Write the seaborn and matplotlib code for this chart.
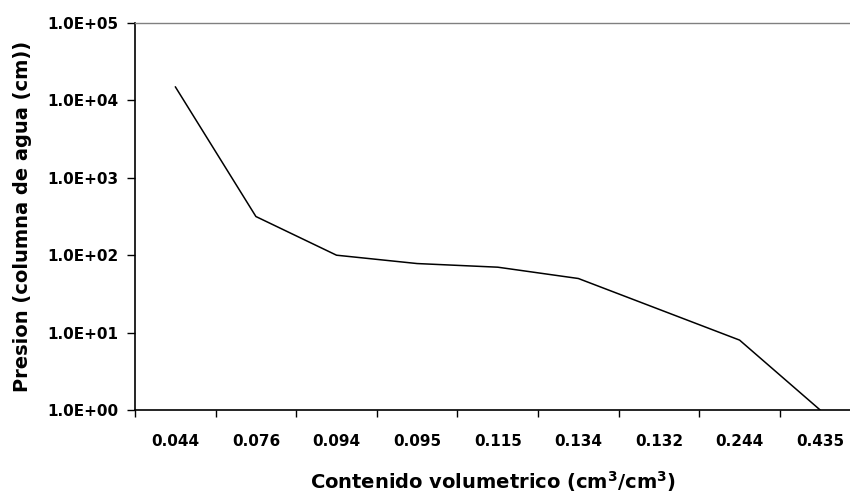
import numpy as np
import pandas as pd
import matplotlib
matplotlib.use("Agg")
import matplotlib.pyplot as plt
from matplotlib.ticker import FixedLocator, FuncFormatter, NullLocator
import seaborn as sns

# Retention curve: volumetric water content vs. suction head
contenido = ["0.044", "0.076", "0.094", "0.095", "0.115", "0.134", "0.132", "0.244", "0.435"]
presion = [15000, 316, 100, 78, 70, 50, 20, 8, 1]
y_ticks = [1e0, 1e1, 1e2, 1e3, 1e4, 1e5]

sns.set_theme(style="white")
plt.rcParams["font.family"] = ["DejaVu Sans"]
plt.rcParams["mathtext.fontset"] = "dejavusans"
plt.rcParams["mathtext.default"] = "bf"
plt.rcParams["text.color"] = "black"
plt.rcParams["axes.labelcolor"] = "black"
plt.rcParams["xtick.color"] = "black"
plt.rcParams["ytick.color"] = "black"

df = pd.DataFrame({"pos": np.arange(len(contenido)), "presion": presion})

fig = plt.figure(figsize=(8.5, 4.95), dpi=100)
ax = fig.add_axes([135 / 850, 1 - 410 / 495, (850 - 135) / 850, (410 - 23) / 495])

sns.lineplot(data=df, x="pos", y="presion", ax=ax, color="black",
             linewidth=1.1, sort=False, estimator=None)

ax.set_yscale("log")
ax.set_ylim(1, 1e5)
ax.yaxis.set_major_locator(FixedLocator(y_ticks))
ax.yaxis.set_minor_locator(NullLocator())
ax.yaxis.set_major_formatter(FuncFormatter(lambda v, p: f"{v:.1E}"))

# category boundaries carry the tick marks, labels sit at the centres
ax.set_xlim(-0.5, 8.37)
ax.set_xticks(np.arange(len(contenido)) - 0.5)
ax.set_xticklabels([])
ax.set_xticks(np.arange(len(contenido)), minor=True)
ax.set_xticklabels(contenido, minor=True)
ax.tick_params(axis="x", which="major", direction="out", length=5, width=1, color="black", bottom=True)
ax.tick_params(axis="x", which="minor", length=0, pad=17, labelsize=11, labelcolor="black")
ax.tick_params(axis="y", which="major", direction="out", length=6, width=1, color="black",
               left=True, labelsize=11, pad=6, labelcolor="black")
for lab in ax.get_xticklabels(minor=True) + ax.get_yticklabels():
    lab.set_fontweight("bold")

for side in ["left", "bottom"]:
    ax.spines[side].set_color("black")
    ax.spines[side].set_linewidth(1.2)
ax.spines["right"].set_visible(False)
ax.spines["top"].set_color("#808080")
ax.spines["top"].set_linewidth(1.0)
ax.grid(False)

ax.set_xlabel(r"Contenido volumetrico (cm$^3$/cm$^3$)", fontsize=14, fontweight="bold",
              labelpad=15, color="black")
ax.set_ylabel("Presion (columna de agua (cm))", fontsize=14, fontweight="bold",
              labelpad=11, color="black")

fig.savefig("out.png", dpi=100)
